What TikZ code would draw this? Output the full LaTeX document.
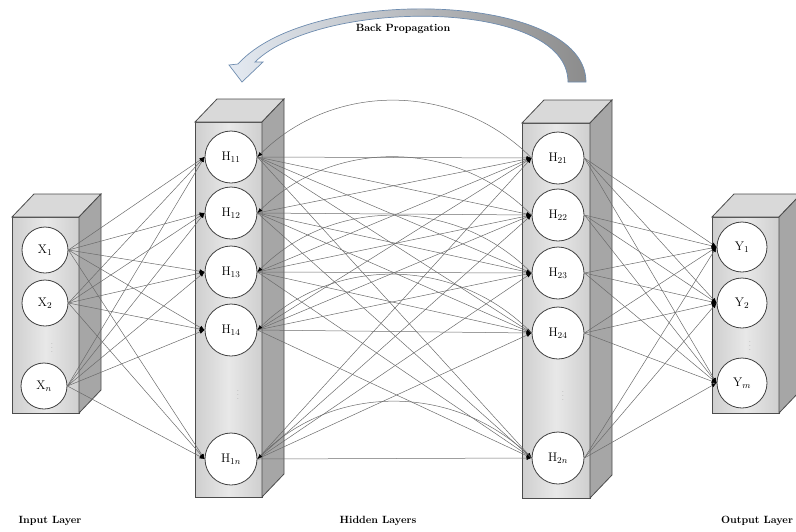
\documentclass[tikz,border=0pt]{standalone}
\usepackage{amsmath}
\usepackage{tikz}
\usetikzlibrary{arrows.meta,positioning}
\definecolor{bplight}{RGB}{228,234,242}
\definecolor{bpdark}{RGB}{140,140,140}
\definecolor{bpedge}{RGB}{110,140,175}

\begin{document}
\begin{tikzpicture}[x=1pt,y=1pt,
    neu/.style={circle,draw=black!75,line width=0.8pt,fill=white,inner sep=0pt,minimum size=52pt,font=\fontsize{12.5}{14}\selectfont},
    neux/.style={neu,minimum size=46pt},
    neuy/.style={neu,minimum size=50pt},
    conn/.style={draw=black!58,line width=0.5pt,-{Latex[length=5pt,width=4pt,color=black]}},
    back/.style={draw=black!58,line width=0.5pt,{Latex[length=5pt,width=4pt,color=black]}-},
    front/.style={draw=black!70,line width=0.8pt,left color=black!19,right color=black!19,middle color=black!9},
    topf/.style={draw=black!70,line width=0.8pt,fill=black!15},
    sidef/.style={draw=black!70,line width=0.8pt,fill=black!35},
    lbl/.style={font=\fontsize{10.5}{12}\selectfont\bfseries},
    dts/.style={text=black!45,font=\scriptsize,inner sep=0pt}]

\useasboundingbox (0,0) rectangle (796,-531);

% layer boxes
\foreach \xl/\xr/\yt/\yb in {12/79/217/413, 195/262/122/497, 522/590/123/498, 712/779/217/413}{
    \draw[front] (\xl,-\yt) rectangle (\xr,-\yb);
    \draw[topf] (\xl,-\yt) -- ++(22,23) -- (\xr+22,-\yt+23) -- (\xr,-\yt) -- cycle;
    \draw[sidef] (\xr,-\yt) -- ++(22,23) -- (\xr+22,-\yb+23) -- (\xr,-\yb) -- cycle;
}

% input layer
\node[neux] (x1) at (45,-250) {X$_1$};
\node[neux] (x2) at (45,-303) {X$_2$};
\node[neux] (xn) at (44,-386) {X$_n$};
\node[dts] (dx) at (52,-345) {$\vdots$};

% hidden layers
\node[neu] (h11) at (231,-157) {H$_{11}$};
\node[neu] (h12) at (231,-213) {H$_{12}$};
\node[neu] (h13) at (231,-272) {H$_{13}$};
\node[neu] (h14) at (231,-330) {H$_{14}$};
\node[neu] (h1n) at (231,-459) {H$_{1n}$};
\node[dts] (dh1) at (238,-392) {$\vdots$};

\node[neu] (h21) at (558,-158) {H$_{21}$};
\node[neu] (h22) at (558,-215) {H$_{22}$};
\node[neu] (h23) at (558,-273) {H$_{23}$};
\node[neu] (h24) at (558,-333) {H$_{24}$};
\node[neu] (h2n) at (558,-458) {H$_{2n}$};
\node[dts] (dh2) at (563,-393) {$\vdots$};

% output layer
\node[neuy] (y1) at (742,-247) {Y$_1$};
\node[neuy] (y2) at (742,-303) {Y$_2$};
\node[neuy] (ym) at (742,-383) {Y$_m$};
\node[dts] (dy) at (750,-343) {$\vdots$};

% connections
\foreach \a in {x1,x2,xn}
    \foreach \b in {h11,h12,h13,h14,h1n}
        \draw[conn] (\a.east) -- (\b.west);
\foreach \a in {h11,h12,h13,h14,h1n}
    \foreach \b in {h21,h22,h23,h24,h2n}
        \draw[conn] (\a.east) -- (\b.west);
\foreach \i in {1,2,3,4,n}
    \draw[back] (h1\i.east) to[bend left=45] (h2\i.west);
\foreach \a in {h21,h22,h23,h24,h2n}
    \foreach \b in {y1,y2,ym}
        \draw[conn] (\a.east) -- (\b.west);

% back propagation arrow
\draw[bpedge,line width=0.7pt,left color=bplight,right color=bpdark]
    (568,-82) -- (586,-82) .. controls (586,8) and (310,16) .. (238,-64)
    -- (229,-65) -- (242,-82) -- (263,-62) -- (255,-62)
    .. controls (320,2) and (568,2) .. (568,-82) -- cycle;
\node[lbl] (bp) at (403,-29) {Back Propagation};

% layer names
\node[lbl] (inl) at (50,-521) {Input Layer};
\node[lbl] (hid) at (378,-521) {Hidden Layers};
\node[lbl] (outl) at (757,-521) {Output Layer};
\end{tikzpicture}
\end{document}
